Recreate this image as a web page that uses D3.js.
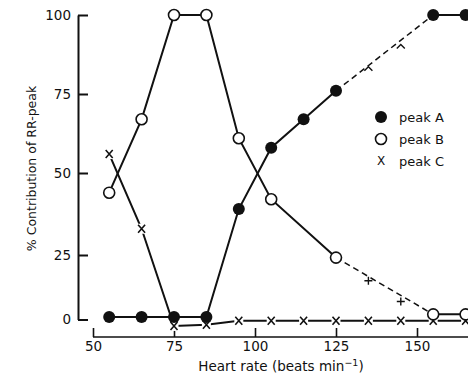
<!DOCTYPE html>
<html>
<head>
<meta charset="utf-8">
<script src="https://cdn.jsdelivr.net/npm/d3@7"></script>
<style>
  html, body { margin: 0; padding: 0; background: #fff; }
  svg { display: block; }
  text { font-family: "DejaVu Sans", sans-serif; fill: #111; }
</style>
</head>
<body>
<script>
// ---- data ----
const heartRate = [55, 65, 75, 85, 95, 105, 115, 125, 135, 145, 155, 165];
const peakA = [1, 1, 1, 1, 39, 58, 67, 76, null, null, 100, 100];
const peakB = [44, 67, 100, 100, 61, 42, null, 24, null, null, 2, 2];
const peakC = [56, 33, -2.5, -2, -0.5, -0.5, -0.5, -0.5, -0.5, -0.5, -0.5, -0.5];
// small marks drawn on the dashed (extrapolated) parts
const dashRate = [135, 145];
const dashA = [83, 90];
const dashB = [15, 7];
const xTicks = [50, 75, 100, 125, 150];
const yTicks = [0, 25, 50, 75, 100];
const legendLabels = ["peak A", "peak B", "peak C"];

const W = 468, H = 376;
const svg = d3.select("body").append("svg").attr("width", W).attr("height", H);

const x = d3.scaleLinear().domain([50, 150]).range([93, 417]);
// original figure's vertical axis is slightly uneven; follow its tick positions
const y = d3.scaleLinear().domain([0, 25, 50, 75, 100]).range([319.5, 255, 173, 94, 15]);

const ink = "#111";

// y axis
const yAxis = svg.append("g").attr("transform", "translate(78,0)")
  .call(d3.axisLeft(y).tickValues(yTicks).tickSizeInner(-10).tickSizeOuter(0).tickPadding(7));
yAxis.select(".domain").attr("stroke", ink).attr("stroke-width", 2);
yAxis.selectAll(".tick line").attr("stroke", ink).attr("stroke-width", 2);
yAxis.selectAll(".tick text").attr("font-size", 13.5).attr("font-family", "DejaVu Sans").attr("fill", ink);

// x axis
const xAxis = svg.append("g").attr("transform", "translate(0,337)")
  .call(d3.axisBottom(x).tickValues(xTicks).tickSizeInner(-9).tickSizeOuter(0).tickPadding(6));
xAxis.select(".domain").attr("d", `M${x(50)},0H${W}`).attr("stroke", ink).attr("stroke-width", 1.6);
xAxis.selectAll(".tick line").attr("stroke", ink).attr("stroke-width", 1.6);
xAxis.selectAll(".tick text").attr("font-size", 13.5).attr("font-family", "DejaVu Sans").attr("fill", ink).attr("dy", "0.6em");

// axis titles
svg.append("text")
  .attr("transform", `translate(36,${(74 + 263) / 2}) rotate(-90)`)
  .attr("text-anchor", "middle").attr("font-size", 12.5)
  .text("% Contribution of RR-peak");

const xl = svg.append("text").attr("x", 281).attr("y", 371).attr("text-anchor", "middle").attr("font-size", 13.5);
xl.append("tspan").text("Heart rate (beats min");
xl.append("tspan").attr("dy", -5).attr("font-size", 9.5).text("−1");
xl.append("tspan").attr("dy", 5).text(")");

// helpers
const pts = vals => heartRate.map((h, i) => ({ h, v: vals[i] })).filter(d => d.v != null);
const line = d3.line().x(d => x(d.h)).y(d => y(d.v));

function drawSeries(vals, solidUpTo, dashTo) {
  const p = pts(vals);
  const first = p.filter(d => d.h <= solidUpTo);
  const dashed = p.filter(d => d.h >= solidUpTo && d.h <= dashTo);
  const last = p.filter(d => d.h >= dashTo);
  svg.append("path").attr("d", line(first)).attr("fill", "none").attr("stroke", ink).attr("stroke-width", 2);
  svg.append("path").attr("d", line(dashed)).attr("fill", "none").attr("stroke", ink)
    .attr("stroke-width", 1.5).attr("stroke-dasharray", "6,4");
  svg.append("path").attr("d", line(last)).attr("fill", "none").attr("stroke", ink).attr("stroke-width", 2);
}

// peak C line and markers
svg.append("path").attr("d", line(pts(peakC))).attr("fill", "none").attr("stroke", ink).attr("stroke-width", 2);

drawSeries(peakB, 125, 155);
drawSeries(peakA, 125, 155);

function xMark(g, cx, cy) {
  g.append("path")
    .attr("d", `M${cx - 3.5},${cy - 4}L${cx + 3.5},${cy + 4}M${cx + 3.5},${cy - 4}L${cx - 3.5},${cy + 4}`)
    .attr("stroke", ink).attr("stroke-width", 1.6).attr("fill", "none");
}
const gC = svg.append("g");
pts(peakC).forEach((d, i) => {
  const cx = x(d.h), cy = y(d.v);
  gC.append("rect").attr("x", cx - 4.5).attr("y", cy - 5).attr("width", 9).attr("height", 10).attr("fill", "#fff");
  xMark(gC, cx, cy);
});

// extrapolation tick marks on dashed lines
dashRate.forEach((h, i) => {
  const cx = x(h), cyA = y(dashA[i]), cyB = y(dashB[i]);
  svg.append("path").attr("d", `M${cx - 4},${cyA + 2}L${cx},${cyA - 2}L${cx + 4},${cyA + 2}`)
    .attr("stroke", ink).attr("stroke-width", 1.4).attr("fill", "none");
  svg.append("path").attr("d", `M${cx - 4},${cyB}H${cx + 4}M${cx},${cyB - 4}V${cyB + 4}`)
    .attr("stroke", ink).attr("stroke-width", 1.4).attr("fill", "none");
});

// peak B open circles
svg.append("g").selectAll("circle").data(pts(peakB)).join("circle")
  .attr("cx", d => x(d.h)).attr("cy", d => y(d.v)).attr("r", 5.5)
  .attr("fill", "#fff").attr("stroke", ink).attr("stroke-width", 1.6);

// peak A filled circles
svg.append("g").selectAll("circle").data(pts(peakA)).join("circle")
  .attr("cx", d => x(d.h)).attr("cy", d => y(d.v)).attr("r", 6)
  .attr("fill", ink);

// legend
const lg = svg.append("g");
const rowY = [117, 139, 161];
lg.append("circle").attr("cx", 381).attr("cy", rowY[0]).attr("r", 6).attr("fill", ink);
lg.append("circle").attr("cx", 381).attr("cy", rowY[1]).attr("r", 5.5).attr("fill", "#fff").attr("stroke", ink).attr("stroke-width", 1.6);
lg.append("text").attr("x", 381).attr("y", rowY[2]).attr("dy", "0.36em").attr("text-anchor", "middle").attr("font-size", 12).text("X");
legendLabels.forEach((t, i) => {
  lg.append("text").attr("x", 399).attr("y", rowY[i]).attr("dy", "0.36em").attr("font-size", 13).text(t);
});
</script>
</body>
</html>
